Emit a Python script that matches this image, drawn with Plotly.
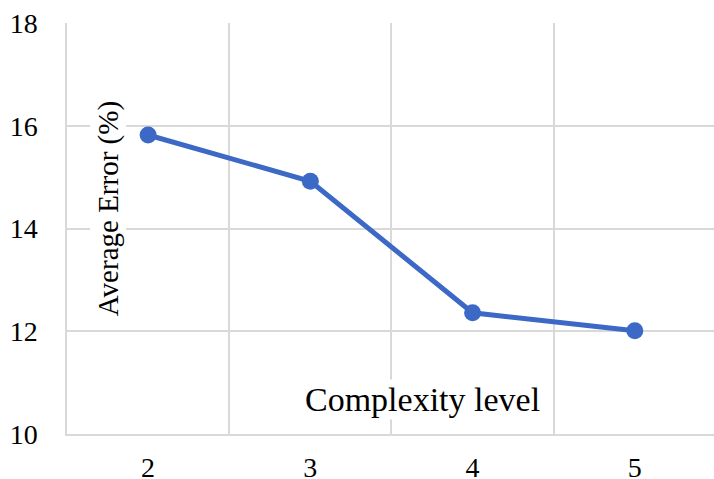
import plotly.graph_objects as go

# Average error by complexity level
complexity_levels = ["2", "3", "4", "5"]
average_error = [15.82, 14.92, 12.36, 12.01]
y_ticks = [10, 12, 14, 16, 18]

FONT = "Liberation Serif"
GRID = "#d9d9d9"
BLUE = "#3c68c6"

fig = go.Figure()
fig.add_trace(go.Scatter(
    x=complexity_levels,
    y=average_error,
    mode="lines+markers",
    line=dict(color=BLUE, width=5),
    marker=dict(color=BLUE, size=17),
    showlegend=False,
))

fig.update_layout(
    width=714,
    height=479,
    margin=dict(l=67, r=0, t=23, b=45),
    paper_bgcolor="white",
    plot_bgcolor="white",
    font=dict(family=FONT, color="black", size=28),
    xaxis=dict(
        type="category",
        range=[-0.5, 3.488],
        tickson="boundaries",
        showgrid=True,
        gridcolor=GRID,
        gridwidth=1.5,
        showline=True,
        linecolor=GRID,
        linewidth=1.5,
        ticks="",
        ticklabelstandoff=8,
        tickfont=dict(family=FONT, size=28, color="black"),
        zeroline=False,
        automargin=False,
    ),
    yaxis=dict(
        range=[10, 18],
        tickvals=y_ticks,
        showgrid=True,
        gridcolor=GRID,
        gridwidth=1.5,
        showline=True,
        linecolor=GRID,
        linewidth=1.5,
        ticks="",
        ticklabelstandoff=22,
        tickfont=dict(family=FONT, size=28, color="black"),
        zeroline=False,
        automargin=False,
    ),
    annotations=[
        dict(
            text="Complexity level",
            xref="paper", yref="paper",
            x=0.5495, y=0.085,
            xanchor="center", yanchor="middle",
            showarrow=False,
            font=dict(family=FONT, size=34, color="black"),
            bgcolor="white",
        ),
        dict(
            text="Average Error (%)",
            xref="paper", yref="paper",
            x=0.064, y=0.548,
            xanchor="center", yanchor="middle",
            textangle=-90,
            showarrow=False,
            font=dict(family=FONT, size=29, color="black"),
            bgcolor="white",
        ),
    ],
)

fig.write_html("out.html")
